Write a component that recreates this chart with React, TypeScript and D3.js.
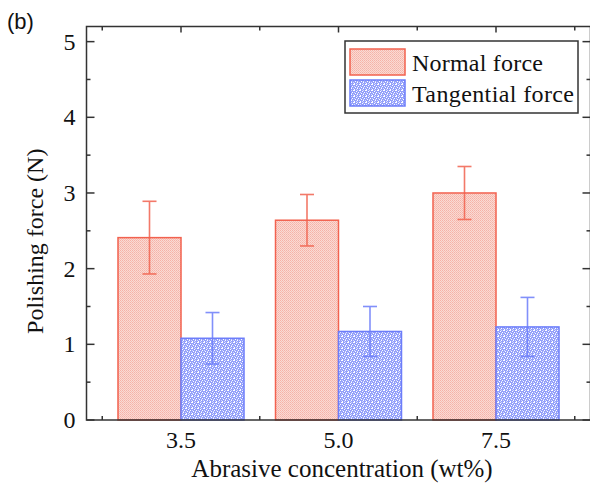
import React from "react";
import * as d3 from "d3";

const categories = ["3.5", "5.0", "7.5"];
const normalForce = [2.41, 2.64, 3.0];
const normalErr = [0.48, 0.34, 0.35];
const tangentialForce = [1.08, 1.17, 1.23];
const tangentialErr = [0.34, 0.33, 0.39];
const yTicks = [0, 1, 2, 3, 4, 5];
const seriesNames = ["Normal force", "Tangential force"];

const W = 590;
const H = 483;
const left = 86.5;
const right = 590.5;
const top = 26.5;
const bottom = 420;

const RED = "#F2624F";
const BLUE = "#6C7DFA";

// blue tile: 1 = white speck, 2 = pale, 0 = base
const blueTile = [
  [1, 0, 0, 2, 0, 1],
  [0, 0, 1, 0, 0, 0],
  [2, 0, 0, 0, 1, 0],
  [0, 1, 0, 2, 0, 0],
  [0, 0, 0, 1, 0, 2],
  [1, 0, 2, 0, 0, 0],
];

export default function App() {
  const x = d3.scaleLinear().domain([0.4, 3.6]).range([left, right]);
  const y = d3.scaleLinear().domain([0, 5.2]).range([bottom, top]);
  const bw = x(0.4) - x(0);
  const minorY = d3.range(0.5, 5.2, 1);
  const minorX = [0.5, 1.5, 2.5, 3.5];
  const majorX = [1, 2, 3];
  const serif = "'Liberation Serif', 'Times New Roman', serif";
  const series = [
    { vals: normalForce, err: normalErr, color: RED, fill: "url(#pRed)", off: -0.4 },
    { vals: tangentialForce, err: tangentialErr, color: BLUE, fill: "url(#pBlue)", off: 0 },
  ];
  return (
    <svg width={W} height={H} style={{ position: "absolute", left: 0, top: 0 }} xmlns="http://www.w3.org/2000/svg">
      <defs>
        <pattern id="pRed" width="2" height="2" patternUnits="userSpaceOnUse">
          <rect width="2" height="2" fill="#FADAD4" />
          <rect width="1" height="1" fill="#F5B2A7" />
          <rect x="1" y="1" width="1" height="1" fill="#F7BDB3" />
        </pattern>
        <pattern id="pBlue" width="6" height="6" patternUnits="userSpaceOnUse">
          <rect width="6" height="6" fill="#93A0FA" />
          {blueTile.flatMap((row, r) =>
            row.map((v, c) =>
              v ? (
                <rect key={`${r}-${c}`} x={c} y={r} width={1} height={1} fill={v === 1 ? "#FFFFFF" : "#D3D8FD"} />
              ) : null
            )
          )}
        </pattern>
      </defs>
      <rect width={W} height={H} fill="#fff" />

      {series.map((s, si) =>
        s.vals.map((v, i) => (
          <rect
            key={`b${si}-${i}`}
            x={x(i + 1 + s.off)}
            y={y(v)}
            width={bw}
            height={y(0) - y(v)}
            fill={s.fill}
            stroke={s.color}
            strokeWidth={1.5}
          />
        ))
      )}
      {series.map((s, si) =>
        s.vals.map((v, i) => {
          const cx = x(i + 1 + s.off + 0.2);
          return (
            <g key={`e${si}-${i}`} stroke={s.color} strokeWidth={1.6} opacity={0.85}>
              <line x1={cx} x2={cx} y1={y(v + s.err[i])} y2={y(v - s.err[i])} />
              <line x1={cx - 7} x2={cx + 7} y1={y(v + s.err[i])} y2={y(v + s.err[i])} />
              <line x1={cx - 7} x2={cx + 7} y1={y(v - s.err[i])} y2={y(v - s.err[i])} />
            </g>
          );
        })
      )}

      <g stroke="#333" strokeWidth={1.5} fill="none">
        <rect x={left} y={top} width={right - left} height={bottom - top} />
        {yTicks.map((t) => (
          <g key={`yt${t}`}>
            <line x1={left} x2={left + 8} y1={y(t)} y2={y(t)} />
            <line x1={right} x2={right - 8} y1={y(t)} y2={y(t)} />
          </g>
        ))}
        {minorY.map((t) => (
          <g key={`ym${t}`}>
            <line x1={left} x2={left + 4} y1={y(t)} y2={y(t)} />
            <line x1={right} x2={right - 4} y1={y(t)} y2={y(t)} />
          </g>
        ))}
        {minorX.map((t) => (
          <g key={`xm${t}`}>
            <line x1={x(t)} x2={x(t)} y1={bottom} y2={bottom - 4} />
            <line x1={x(t)} x2={x(t)} y1={top} y2={top + 4} />
          </g>
        ))}
        {majorX.map((t) => (
          <line key={`xM${t}`} x1={x(t)} x2={x(t)} y1={top} y2={top + 6} />
        ))}
      </g>

      <g fontFamily={serif} fontSize={24} fill="#111">
        {yTicks.map((t) => (
          <text key={`yl${t}`} x={left - 11} y={y(t)} textAnchor="end" dominantBaseline="central">
            {t}
          </text>
        ))}
        {categories.map((c, i) => (
          <text key={`xl${c}`} x={x(i + 1)} y={448} textAnchor="middle">
            {c}
          </text>
        ))}
        <text x={342} y={477} textAnchor="middle" fontSize={25}>
          Abrasive concentration (wt%)
        </text>
        <text transform={`translate(43, ${(top + bottom) / 2 + 18}) rotate(-90)`} textAnchor="middle" fontSize={24}>
          Polishing force (N)
        </text>
      </g>

      <rect x={345} y={41} width={233} height={72} fill="#fff" stroke="#333" strokeWidth={1.5} />
      {series.map((s, si) => (
        <g key={`lg${si}`}>
          <rect x={350} y={49 + si * 31} width={55} height={26} fill={s.fill} stroke={s.color} strokeWidth={1.5} />
          <text x={412} y={71 + si * 31} fontFamily={serif} fontSize={24} fill="#111" textLength={si === 0 ? 131 : 162} lengthAdjust="spacing">
            {seriesNames[si]}
          </text>
        </g>
      ))}

      <text x={7} y={29} fontFamily="'Liberation Sans', Arial, sans-serif" fontSize={22} fill="#111">
        (b)
      </text>
    </svg>
  );
}
